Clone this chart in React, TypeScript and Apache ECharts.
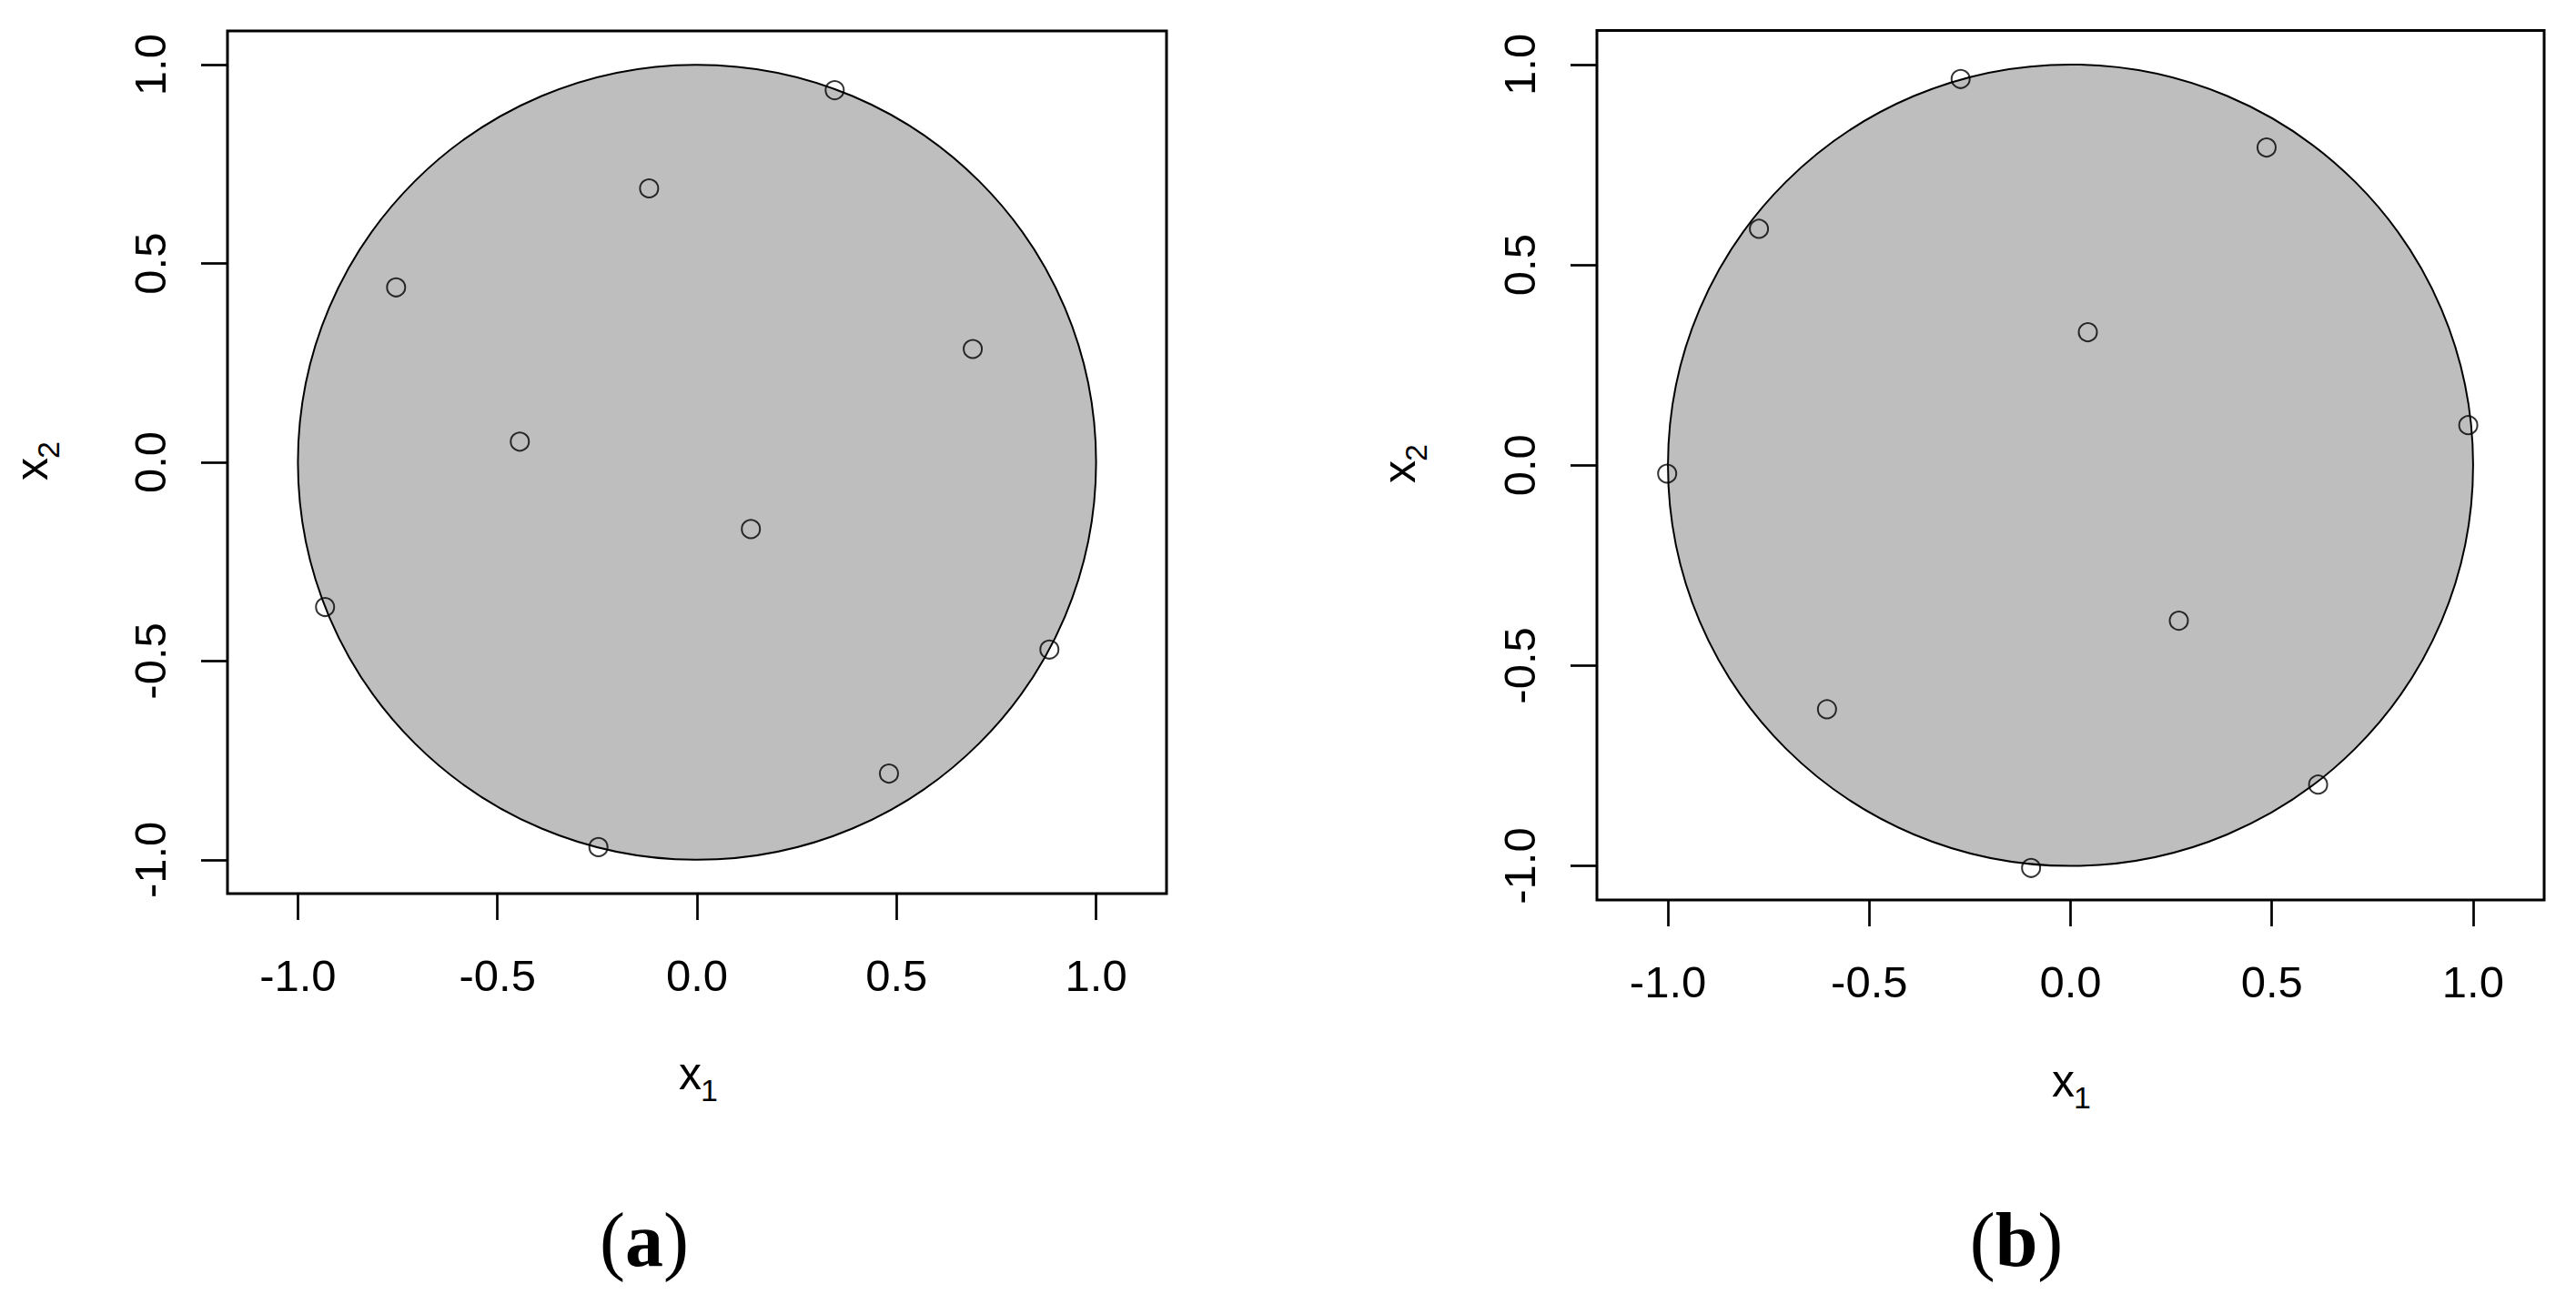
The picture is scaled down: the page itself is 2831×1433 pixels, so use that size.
import React, { useEffect, useRef } from "react";
import * as echarts from "echarts";

// ---- data ----
const tickValues = [-1, -0.5, 0, 0.5, 1];
const xLimits = [-1.1765, 1.1765];
const yLimits = [-1.085, 1.085];
const circleCenter = [0, 0];
const circleRadius = 1;
const panelLetters = ["a", "b"];
const xTitleMain = "x";
const xTitleSub = "1";
const yTitleMain = "x";
const yTitleSub = "2";

const xA = [0.345, -0.12, -0.754, 0.691, -0.444, 0.135, -0.932, 0.883, 0.481, -0.247];
const yA = [0.936, 0.689, 0.44, 0.285, 0.052, -0.168, -0.364, -0.471, -0.783, -0.968];
const xB = [-0.273, 0.487, -0.774, 0.043, 0.988, -1.002, 0.269, -0.605, 0.615, -0.098];
const yB = [0.964, 0.793, 0.59, 0.332, 0.1, -0.021, -0.388, -0.609, -0.797, -1.005];

// ---- layout ----
const W = 2831;
const H = 1433;
const grids = [
  { left: 250, top: 34, width: 1032, height: 948 },
  { left: 1755, top: 33.5, width: 1041, height: 955.5 },
];
const FONT = "'Liberation Sans', Arial, sans-serif";
const SERIF = "'Liberation Serif', 'Times New Roman', serif";

function subLabel(main: string, sub: string, x: number, y: number, rotation: number) {
  return {
    type: "group",
    x,
    y,
    rotation,
    silent: true,
    children: [
      {
        type: "text",
        x: -20,
        y: -17.3,
        style: { text: main, fontSize: 50, fontFamily: FONT, fill: "#000", align: "left", verticalAlign: "middle" },
      },
      {
        type: "text",
        x: 4,
        y: 0.6,
        style: { text: sub, fontSize: 34, fontFamily: FONT, fill: "#000", align: "left", verticalAlign: "middle" },
      },
    ],
  };
}

function panelLabel(letter: string, x: number, y: number) {
  return {
    type: "text",
    x,
    y,
    silent: true,
    style: {
      text: "{p|(}{b|" + letter + "}{p|)}",
      align: "center",
      verticalAlign: "middle",
      fill: "#000",
      rich: {
        p: { fontSize: 84, fontFamily: SERIF, fontWeight: "normal", fill: "#000", lineHeight: 90 },
        b: { fontSize: 84, fontFamily: SERIF, fontWeight: "bold", fill: "#000", lineHeight: 90 },
      },
    },
  };
}

export default function App() {
  const ref = useRef<HTMLDivElement>(null);
  useEffect(() => {
    if (!ref.current) return;
    const chart = echarts.init(ref.current, null, { renderer: "svg" });
    const pts = [
      xA.map((x, i) => [x, yA[i]]),
      xB.map((x, i) => [x, yB[i]]),
    ];
    const xAxis = grids.map((_, i) => ({
      type: "value",
      gridIndex: i,
      min: xLimits[0],
      max: xLimits[1],
      splitLine: { show: false },
      axisLine: { show: false, onZero: false },
      axisTick: { show: true, length: 29, customValues: tickValues, lineStyle: { color: "#000", width: 2.7 } },
      axisLabel: {
        show: true,
        customValues: tickValues,
        margin: 65,
        formatter: (v: number) => v.toFixed(1),
        fontSize: 49,
        lineHeight: 49,
        fontFamily: FONT,
        color: "#000",
      },
    }));
    const yAxis = grids.map((_, i) => ({
      type: "value",
      gridIndex: i,
      min: yLimits[0],
      max: yLimits[1],
      splitLine: { show: false },
      axisLine: { show: false, onZero: false },
      axisTick: { show: true, length: 29, customValues: tickValues, lineStyle: { color: "#000", width: 2.7 } },
      axisLabel: {
        show: true,
        customValues: tickValues,
        margin: 61,
        rotate: 90,
        formatter: (v: number) => v.toFixed(1),
        fontSize: 49,
        lineHeight: 49,
        fontFamily: FONT,
        color: "#000",
      },
    }));
    const series: any[] = [];
    grids.forEach((_, i) => {
      series.push({
        type: "custom",
        xAxisIndex: i,
        yAxisIndex: i,
        silent: true,
        z: 1,
        data: [[circleCenter[0], circleCenter[1], circleRadius]],
        renderItem: (params: any, api: any) => {
          const cx = api.value(0);
          const cy = api.value(1);
          const r = api.value(2);
          const c = api.coord([cx, cy]);
          const e = api.coord([cx + r, cy + r]);
          return {
            type: "ellipse",
            shape: { cx: c[0], cy: c[1], rx: e[0] - c[0], ry: c[1] - e[1] },
            style: { fill: "#bebebe", stroke: "#000", lineWidth: 2 },
          };
        },
      });
      series.push({
        type: "scatter",
        xAxisIndex: i,
        yAxisIndex: i,
        silent: true,
        z: 3,
        symbol: "circle",
        symbolSize: 20,
        itemStyle: { color: "rgba(0,0,0,0)", borderColor: "#000", borderWidth: 2 },
        data: pts[i],
      });
    });
    const graphic: any[] = [
      subLabel(xTitleMain, xTitleSub, 766, 1197, 0),
      subLabel(xTitleMain, xTitleSub, 2275, 1205, 0),
      subLabel(yTitleMain, yTitleSub, 52, 508, Math.PI / 2),
      subLabel(yTitleMain, yTitleSub, 1555, 511, Math.PI / 2),
      panelLabel(panelLetters[0], 708, 1362),
      panelLabel(panelLetters[1], 2216, 1362),
    ];
    chart.setOption({
      animation: false,
      backgroundColor: "#fff",
      grid: grids.map((g) => ({ ...g, show: true, borderColor: "#000", borderWidth: 3, backgroundColor: "transparent", containLabel: false })),
      xAxis,
      yAxis,
      series,
      graphic,
    });
    return () => chart.dispose();
  }, []);
  return <div ref={ref} style={{ position: "fixed", left: 0, top: 0, width: W, height: H, background: "#fff" }} />;
}
